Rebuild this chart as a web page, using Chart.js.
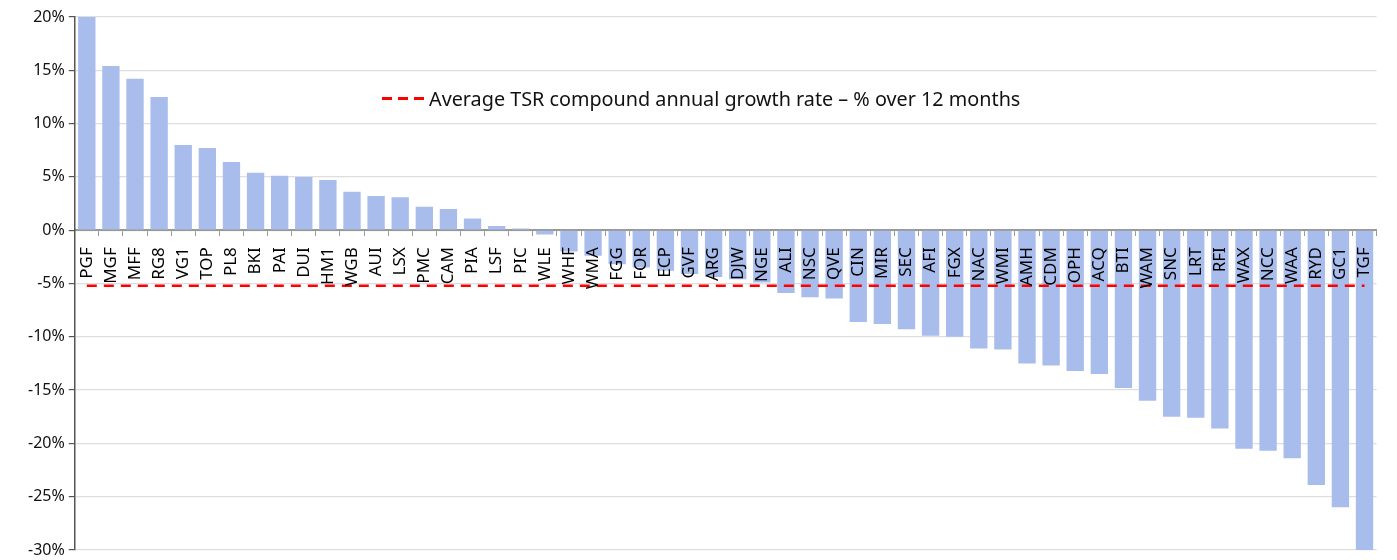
<!DOCTYPE html>
<html>
<head>
<meta charset="utf-8">
<script src="https://cdn.jsdelivr.net/npm/chart.js@4.4.1/dist/chart.umd.min.js"></script>
<style>
  html, body { margin: 0; padding: 0; background: #fff; }
  #wrap { position: relative; width: 1397px; height: 560px; }
  #legend {
    position: absolute; left: 382px; top: 85px;
    font-family: "Noto Sans", sans-serif; font-size: 19.8px; color: #111;
    display: flex; align-items: center; white-space: nowrap;
  }
  #legend .dash {
    width: 44px; height: 3px; margin-right: 3px;
    background: repeating-linear-gradient(to right, #ff0000 0 10px, transparent 10px 16px);
  }
</style>
</head>
<body>
<div id="wrap">
  <canvas id="tsrChart" width="1397" height="560"></canvas>
  <div id="legend"><span class="dash"></span><span>Average TSR compound annual growth rate – % over 12 months</span></div>
</div>
<script>
// Fonds et TSR sur 12 mois (%)
const tickers = ['PGF', 'MGF', 'MFF', 'RG8', 'VG1', 'TOP', 'PL8', 'BKI', 'PAI', 'DUI',
  'HM1', 'WGB', 'AUI', 'LSX', 'PMC', 'CAM', 'PIA', 'LSF', 'PIC', 'WLE',
  'WHF', 'WMA', 'FGG', 'FOR', 'ECP', 'GVF', 'ARG', 'DJW', 'NGE', 'ALI',
  'NSC', 'QVE', 'CIN', 'MIR', 'SEC', 'AFI', 'FGX', 'NAC', 'WMI', 'AMH',
  'CDM', 'OPH', 'ACQ', 'BTI', 'WAM', 'SNC', 'LRT', 'RFI', 'WAX', 'NCC',
  'WAA', 'RYD', 'GC1', 'TGF'];

const tsrValues = [20.0, 15.4, 14.2, 12.5, 8.0, 7.7, 6.4, 5.4, 5.1, 5.0,
  4.7, 3.6, 3.2, 3.1, 2.2, 2.0, 1.1, 0.4, 0.15, -0.4,
  -2.0, -2.4, -3.2, -3.5, -3.8, -4.1, -4.4, -4.6, -4.9, -5.9,
  -6.3, -6.4, -8.6, -8.8, -9.3, -9.9, -10.0, -11.1, -11.2, -12.5,
  -12.7, -13.2, -13.5, -14.8, -16.0, -17.5, -17.6, -18.6, -20.5, -20.7,
  -21.4, -23.9, -26.0, -30.0];

const averageTsr = -5.2;

const yTicks = [20, 15, 10, 5, 0, -5, -10, -15, -20, -25, -30];

const fontFamily = '"Noto Sans", sans-serif';

const ctx = document.getElementById('tsrChart');

new Chart(ctx, {
  data: {
    labels: tickers,
    datasets: [
      {
        type: 'line',
        label: 'Average TSR compound annual growth rate – % over 12 months',
        data: [{ x: tickers[0], y: averageTsr }, { x: tickers[tickers.length - 1], y: averageTsr }],
        borderColor: '#ff0000',
        borderWidth: 2.5,
        borderDash: [10, 7],
        pointRadius: 0,
        fill: false,
        order: 0
      },
      {
        type: 'bar',
        label: 'TSR',
        data: tsrValues,
        backgroundColor: '#a9bdec',
        barPercentage: 0.72,
        categoryPercentage: 1,
        order: 1
      }
    ]
  },
  options: {
    responsive: false,
    animation: false,
    layout: { padding: { left: 24, right: 9, top: 17, bottom: 10 } },
    plugins: {
      legend: { display: false },
      tooltip: { enabled: false }
    },
    scales: {
      x: {
        position: { y: 0 },
        offset: true,
        grid: {
          drawOnChartArea: false,
          offset: true,
          tickLength: 5,
          tickColor: '#999',
          tickWidth: 1
        },
        border: { color: '#999', width: 2 },
        ticks: {
          z: 1,
          minRotation: 90,
          maxRotation: 90,
          autoSkip: false,
          padding: 12,
          color: '#000',
          font: { family: fontFamily, size: 17 }
        }
      },
      y: {
        min: -30,
        max: 20,
        afterBuildTicks: axis => { axis.ticks = yTicks.map(v => ({ value: v })); },
        grid: {
          color: '#dedede',
          lineWidth: 1.2,
          tickLength: 6,
          tickColor: '#555'
        },
        border: { color: '#555', width: 1.5 },
        ticks: {
          padding: 4,
          color: '#111',
          font: { family: fontFamily, size: 16, lineHeight: 0.4 },
          callback: v => v + '%'
        }
      }
    }
  }
});
</script>
</body>
</html>
